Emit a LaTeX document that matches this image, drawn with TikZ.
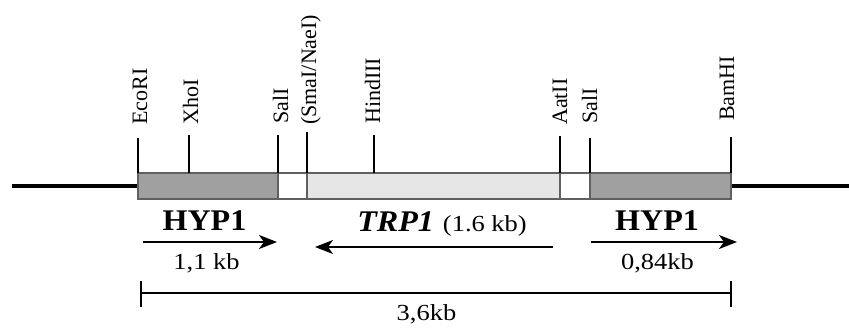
\documentclass[tikz,border=0pt]{standalone}
\usepackage{fontspec}
\setmainfont{Liberation Serif}
\newfontfamily\wideserif{Liberation Serif}[FakeStretch=1.15]
\newfontfamily\genefont{Liberation Serif}[FakeStretch=1.07]
\usetikzlibrary{arrows.meta}
\definecolor{hypgray}{HTML}{A0A0A0}
\definecolor{trpgray}{HTML}{E6E6E6}
\definecolor{segline}{HTML}{606060}
\begin{document}
\begin{tikzpicture}[x=1pt,y=-1pt,
  site/.style={rotate=90,anchor=base west,inner sep=0pt,
    font=\fontsize{22pt}{24pt}\selectfont},
  cutline/.style={line width=1.5pt},
  seg/.style={draw=segline,line width=1.3pt},
  gene/.style={anchor=base,inner sep=0pt,
    font=\genefont\bfseries\fontsize{30pt}{32pt}\selectfont},
  kbsize/.style={anchor=base,inner sep=0pt,
    font=\wideserif\fontsize{23pt}{26pt}\selectfont},
  orf/.style={line width=2pt,-{Stealth[length=18pt,width=14pt,inset=5pt]}},
  dna/.style={line width=4pt},
  scalebar/.style={line width=2pt}]
\useasboundingbox (0,0) rectangle (849,327);

% flanking vector DNA
\coordinate (lend) at (12,186);
\coordinate (rend) at (849,186);
\coordinate (ecoB) at (138,186);
\coordinate (bamB) at (731,186);
\draw[dna] (lend) -- (ecoB);
\draw[dna] (bamB) -- (rend);

% insert: HYP1 | linker | TRP1 | linker | HYP1
\filldraw[seg,fill=hypgray] (138,173) rectangle (278,199);
\filldraw[seg,fill=white]   (278,173) rectangle (307,199);
\filldraw[seg,fill=trpgray] (307,173) rectangle (560,199);
\filldraw[seg,fill=white]   (560,173) rectangle (590,199);
\filldraw[seg,fill=hypgray] (590,173) rectangle (731,199);

% restriction sites: tick from the top of the bar, label above it
\coordinate (eco)  at (138,173); \coordinate (ecoT)  at (138,138);
\coordinate (xho)  at (189,173); \coordinate (xhoT)  at (189,135);
\coordinate (sala) at (278,173); \coordinate (salaT) at (278,135);
\coordinate (sma)  at (307,173); \coordinate (smaT)  at (307,132);
\coordinate (hind) at (374,173); \coordinate (hindT) at (374,135);
\coordinate (aat)  at (560,173); \coordinate (aatT)  at (560,136);
\coordinate (salb) at (590,173); \coordinate (salbT) at (590,138);
\coordinate (bam)  at (731,173); \coordinate (bamT)  at (731,137);
\foreach \site in {eco,xho,sala,sma,hind,aat,salb,bam}
  \draw[cutline] (\site T) -- (\site);

\node[site] (ecoL)  at (147,125) {EcoRI};
\node[site] (xhoL)  at (198,125) {XhoI};
\node[site] (salaL) at (288,124) {SalI};
\node[site] (smaL)  at (316,125) {(SmaI/NaeI)};
\node[site] (hindL) at (380,124) {HindIII};
\node[site] (aatL)  at (567,125) {AatII};
\node[site] (salbL) at (597,124) {SalI};
\node[site] (bamL)  at (734,121) {BamHI};

% genes and orientation
\node[gene] (hypA) at (204.5,230) {HYP1};
\node[gene] (hypB) at (657,230) {HYP1};
\node[anchor=base,inner sep=0pt] (trp) at (442,231)
  {{\genefont\bfseries\itshape\fontsize{30pt}{32pt}\selectfont TRP1}\hspace{9pt}{\wideserif\fontsize{23pt}{26pt}\selectfont(1.6 kb)}};

\coordinate (hAs) at (143,242);
\coordinate (hAe) at (277,242);
\coordinate (tS)  at (553,247);
\coordinate (tE)  at (315,247);
\coordinate (hBs) at (591,242);
\coordinate (hBe) at (737,242);
\draw[orf] (hAs) -- (hAe);
\draw[orf] (tS) -- (tE);
\draw[orf] (hBs) -- (hBe);

\node[kbsize] (kbA) at (206.5,269) {1,1 kb};
\node[kbsize] (kbB) at (657.5,269) {0,84kb};

% total length
\coordinate (sL) at (141,293);
\coordinate (sR) at (731,293);
\draw[scalebar] (sL) -- (sR);
\draw[scalebar] ([yshift=-14pt]sL) -- ([yshift=12pt]sL);
\draw[scalebar] ([yshift=-14pt]sR) -- ([yshift=12pt]sR);
\node[kbsize] (kbT) at (426.5,320) {3,6kb};
\end{tikzpicture}
\end{document}
